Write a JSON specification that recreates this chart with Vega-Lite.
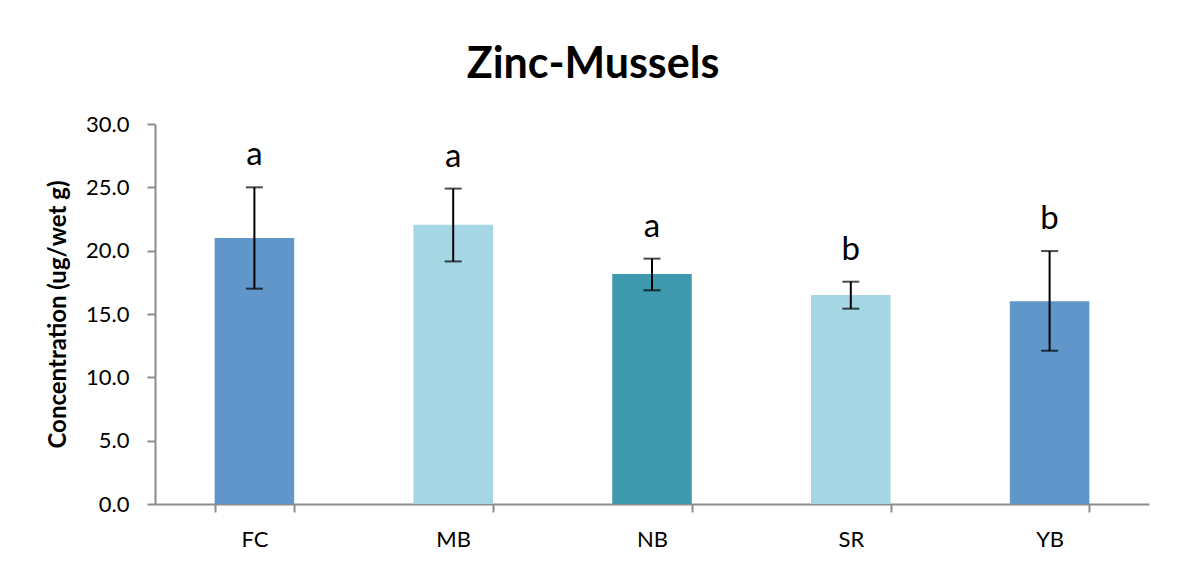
{
  "$schema": "https://vega.github.io/schema/vega-lite/v6.json",
  "autosize": {"type": "none"},
  "padding": {"left": 155, "top": 124, "right": 34, "bottom": 67},
  "width": 994,
  "height": 380,
  "background": "white",
  "config": {"view": {"stroke": null}, "font": "Lato"},
  "title": {
    "text": "Zinc-Mussels",
    "font": "Lato",
    "fontSize": 43,
    "fontWeight": "bold",
    "color": "black",
    "anchor": "middle",
    "frame": "group",
    "dx": -59,
    "offset": -8,
    "baseline": "alphabetic"
  },
  "data": {
    "values": [
      {"site": "FC", "mean": 21.0, "lo": 17.0, "hi": 25.0, "group": "a", "shade": "blue"},
      {"site": "MB", "mean": 22.05, "lo": 19.15, "hi": 24.9, "group": "a", "shade": "light"},
      {"site": "NB", "mean": 18.15, "lo": 16.87, "hi": 19.37, "group": "a", "shade": "teal"},
      {"site": "SR", "mean": 16.5, "lo": 15.42, "hi": 17.55, "group": "b", "shade": "light"},
      {"site": "YB", "mean": 16.0, "lo": 12.1, "hi": 19.97, "group": "b", "shade": "blue"}
    ]
  },
  "encoding": {
    "x": {
      "field": "site",
      "type": "nominal",
      "scale": {"paddingInner": 0.6, "paddingOuter": 0.3},
      "axis": {
        "title": null,
        "labelAngle": 0,
        "labelFontSize": 22,
        "labelColor": "black",
        "labelPadding": 17,
        "tickBand": "extent",
        "tickSize": 8,
        "tickColor": "#8c8c8c",
        "domainColor": "#8c8c8c",
        "domainWidth": 2,
        "tickWidth": 2
      }
    }
  },
  "layer": [
    {
      "mark": {"type": "bar"},
      "encoding": {
        "y": {
          "field": "mean",
          "type": "quantitative",
          "scale": {"domain": [0, 30]},
          "axis": {
            "title": "Concentration (ug/wet g)",
            "titleFontSize": 24,
            "titleFontWeight": "bold",
            "titleColor": "black",
            "titlePadding": 15,
            "values": [0, 5, 10, 15, 20, 25, 30],
            "format": ".1f",
            "labelFontSize": 22,
            "labelColor": "black",
            "labelPadding": 18,
            "grid": false,
            "tickSize": 8,
            "tickColor": "#8c8c8c",
            "domainColor": "#8c8c8c",
            "domainWidth": 2,
            "tickWidth": 2
          }
        },
        "color": {
          "field": "shade",
          "type": "nominal",
          "scale": {"domain": ["blue", "light", "teal"], "range": ["#6096C9", "#A4D6E4", "#3E98AE"]},
          "legend": null
        }
      }
    },
    {
      "mark": {"type": "rule", "color": "black", "strokeWidth": 2},
      "encoding": {
        "y": {"field": "lo", "type": "quantitative"},
        "y2": {"field": "hi"}
      }
    },
    {
      "mark": {"type": "tick", "color": "black", "thickness": 2, "size": 17, "orient": "horizontal"},
      "encoding": {"y": {"field": "lo", "type": "quantitative"}}
    },
    {
      "mark": {"type": "tick", "color": "black", "thickness": 2, "size": 17, "orient": "horizontal"},
      "encoding": {"y": {"field": "hi", "type": "quantitative"}}
    },
    {
      "mark": {"type": "text", "fontSize": 33, "baseline": "alphabetic", "dy": -22, "color": "black", "font": "Lato"},
      "encoding": {
        "y": {"field": "hi", "type": "quantitative"},
        "text": {"field": "group"}
      }
    }
  ]
}
